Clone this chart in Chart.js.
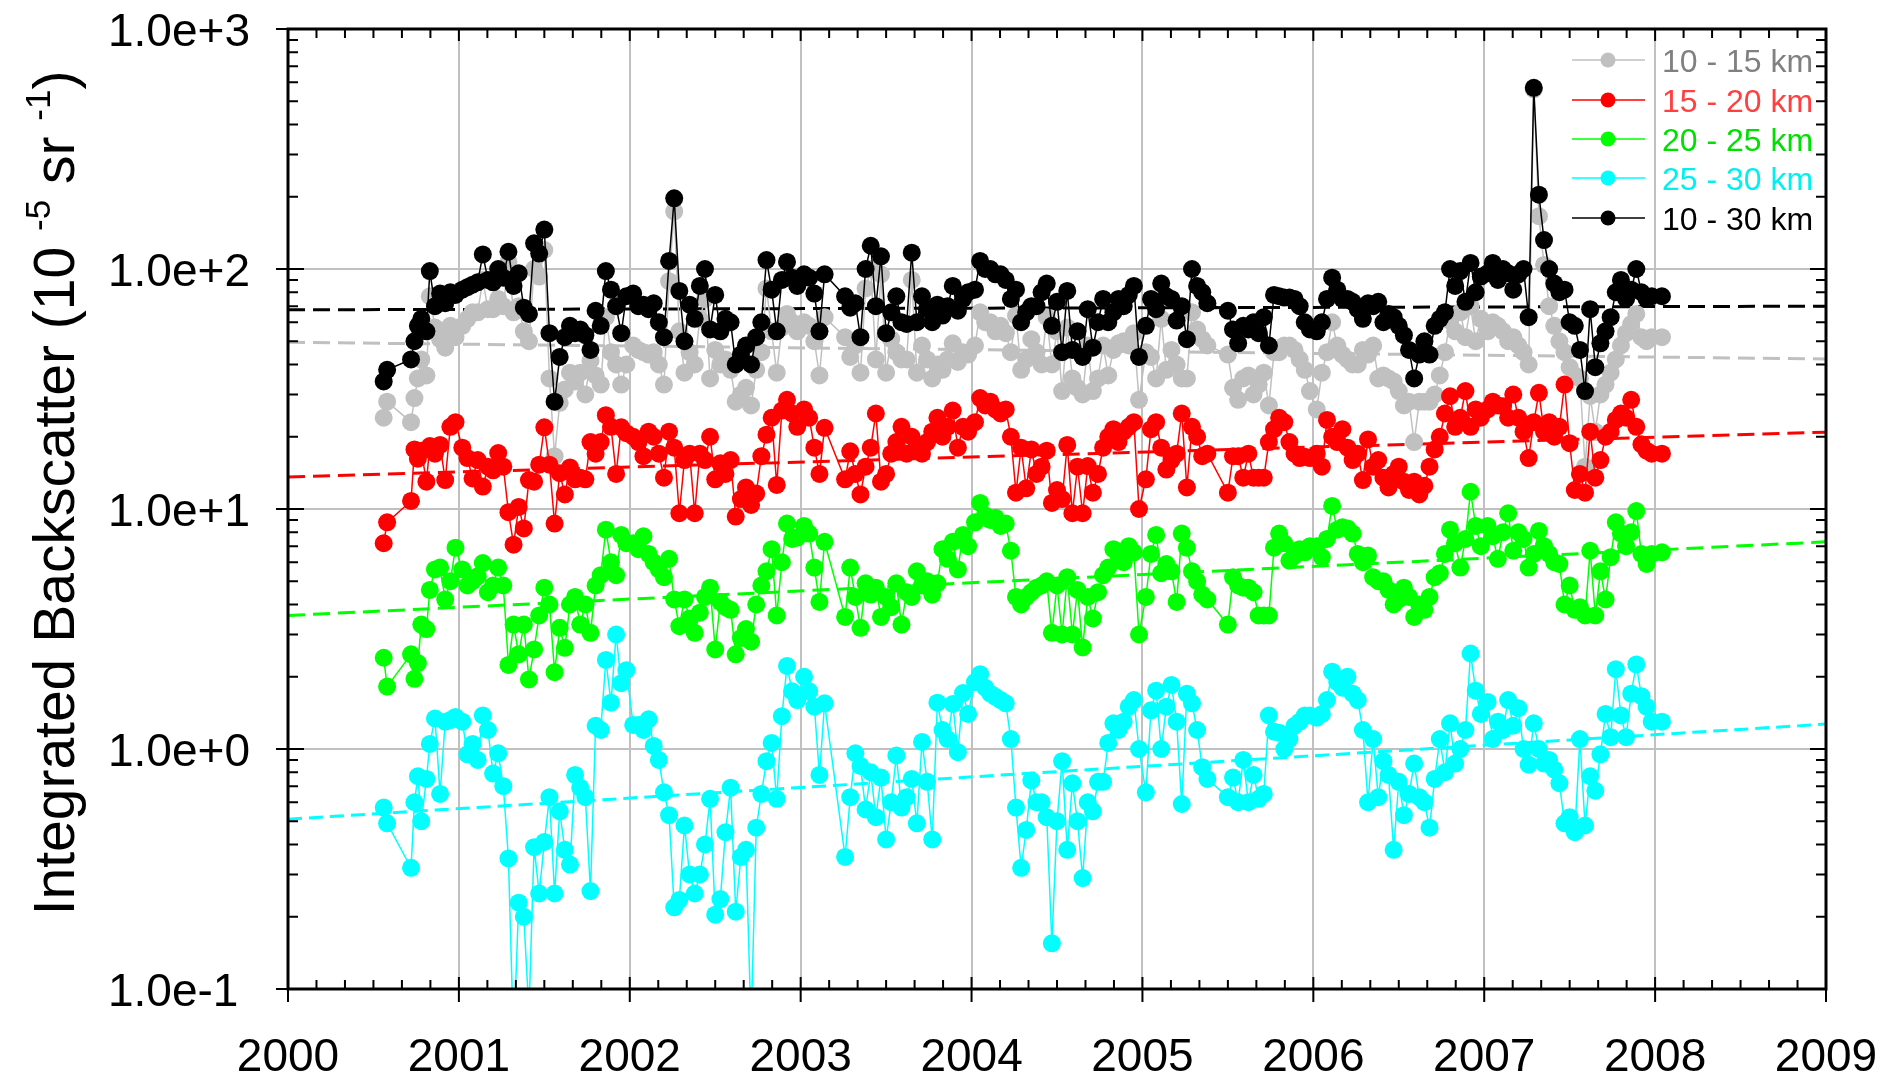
<!DOCTYPE html>
<html>
<head>
<meta charset="utf-8">
<style>
  html, body { margin: 0; padding: 0; background: #fff; }
  #wrap { width: 1882px; height: 1075px; }
</style>
<script src="https://cdn.jsdelivr.net/npm/chart.js@4/dist/chart.umd.min.js"></script>
</head>
<body>
<div id="wrap"><canvas id="chart" width="1882" height="1075"></canvas></div>
<script>
// decimal year of each lidar profile (shared by all altitude ranges)
const dates = [
  2000.56, 2000.58, 2000.72, 2000.74, 2000.76, 2000.78, 2000.81, 2000.83, 2000.86, 2000.89, 2000.92, 2000.95, 2000.98,
  2001.02, 2001.05, 2001.08, 2001.11, 2001.14, 2001.17, 2001.20, 2001.23, 2001.26, 2001.29, 2001.32, 2001.35, 2001.38, 2001.41, 2001.44, 2001.47, 2001.50, 2001.53, 2001.56, 2001.59, 2001.62, 2001.65, 2001.68, 2001.71, 2001.74, 2001.77, 2001.80, 2001.83, 2001.86, 2001.89, 2001.92, 2001.95, 2001.98,
  2002.02, 2002.05, 2002.08, 2002.11, 2002.14, 2002.17, 2002.20, 2002.23, 2002.26, 2002.29, 2002.32, 2002.35, 2002.38, 2002.41, 2002.44, 2002.47, 2002.50, 2002.53, 2002.56, 2002.59, 2002.62, 2002.65, 2002.68, 2002.71, 2002.74, 2002.77, 2002.80, 2002.83, 2002.86, 2002.89, 2002.92, 2002.95, 2002.98,
  2003.02, 2003.05, 2003.08, 2003.11, 2003.14, 2003.26, 2003.29, 2003.32, 2003.35, 2003.38, 2003.41, 2003.44, 2003.47, 2003.50, 2003.53, 2003.56, 2003.59, 2003.62, 2003.65, 2003.68, 2003.71, 2003.74, 2003.77, 2003.80, 2003.83, 2003.86, 2003.89, 2003.92, 2003.95, 2003.98,
  2004.02, 2004.05, 2004.08, 2004.11, 2004.14, 2004.17, 2004.20, 2004.23, 2004.26, 2004.29, 2004.32, 2004.35, 2004.38, 2004.41, 2004.44, 2004.47, 2004.50, 2004.53, 2004.56, 2004.59, 2004.62, 2004.65, 2004.68, 2004.71, 2004.74, 2004.77, 2004.80, 2004.83, 2004.86, 2004.89, 2004.92, 2004.95, 2004.98,
  2005.02, 2005.05, 2005.08, 2005.11, 2005.14, 2005.17, 2005.20, 2005.23, 2005.26, 2005.29, 2005.32, 2005.35, 2005.38, 2005.50, 2005.53, 2005.56, 2005.59, 2005.62, 2005.65, 2005.68, 2005.71, 2005.74, 2005.77, 2005.80, 2005.83, 2005.86, 2005.89, 2005.92, 2005.95, 2005.98,
  2006.02, 2006.05, 2006.08, 2006.11, 2006.14, 2006.17, 2006.20, 2006.23, 2006.26, 2006.29, 2006.32, 2006.35, 2006.38, 2006.41, 2006.44, 2006.47, 2006.50, 2006.53, 2006.56, 2006.59, 2006.62, 2006.65, 2006.68, 2006.71, 2006.74, 2006.77, 2006.80, 2006.83, 2006.86, 2006.89, 2006.92, 2006.95, 2006.98,
  2007.02, 2007.05, 2007.08, 2007.11, 2007.14, 2007.17, 2007.20, 2007.23, 2007.26, 2007.29, 2007.32, 2007.35, 2007.38, 2007.41, 2007.44, 2007.47, 2007.50, 2007.53, 2007.56, 2007.59, 2007.62, 2007.65, 2007.68, 2007.71, 2007.74, 2007.77, 2007.80, 2007.83, 2007.86, 2007.89, 2007.92, 2007.95, 2007.98,
  2008.04
];

const km10_15 = [
  24, 28, 23, 29, 35, 42, 36, 77, 57, 51, 47, 58, 52,
  58, 62, 66, 66, 90, 68, 68, 75, 70, 107, 66, 70, 55, 50, 100, 93, 120, 35, 16.6, 27.7, 31.5, 37, 34, 37, 30, 41.5, 36, 33, 63, 45, 40, 33, 40,
  48, 46, 45, 44, 45, 40, 33, 89, 174, 55, 37, 45, 40, 62, 75, 35, 46, 40, 42, 38, 28, 30, 32, 27, 38, 45, 83, 55, 37, 57, 65, 60, 55,
  60, 58, 50, 36, 63, 52, 43, 48, 37, 83, 100, 42, 95, 37, 51, 45, 42, 42, 90, 37, 48, 42, 35, 40, 38, 42, 49, 41, 45, 44,
  48, 66, 60, 60, 55, 58, 54, 45, 64, 38, 42, 51, 45, 40, 63, 40, 55, 31, 57, 35, 32, 30, 48, 31, 35, 48, 36, 46, 49, 50, 48, 54, 28.5,
  45, 43, 35, 62, 38, 46, 40, 35, 35, 66, 56, 51, 48, 44, 32, 28.5, 35, 36, 30, 33, 37, 27, 45, 45, 48, 48, 46, 42, 38, 31,
  26, 37, 45, 60, 48, 44, 42, 40, 40, 46, 44, 48, 35, 36, 35, 34, 31, 27, 28, 19, 28, 28, 28, 30, 36, 45, 61, 55, 66, 52, 70, 50, 62,
  55, 60, 58, 55, 50, 52, 48, 45, 40, 560, 166, 104, 70, 58, 50, 45, 39, 36, 35, 15, 29.6, 21, 30, 33, 37, 42, 48, 54, 59, 65, 52, 50, 52,
  52
];

const km15_20 = [
  7.2, 8.8, 10.8, 17.7, 16.2, 17.5, 13, 18.3, 17, 18.5, 13.2, 22, 23,
  18, 16.3, 13.4, 16, 12.4, 15, 14.5, 17.1, 15, 9.7, 7.1, 10.2, 8.3, 13.2, 13, 15.3, 21.9, 15.3, 8.7, 14.1, 11.5, 14.9, 13.3, 13.5, 13.3, 19, 17, 19, 24.6, 22, 14, 21.9, 20.7,
  20, 19, 16.6, 21, 20, 17, 13.5, 21, 18, 9.6, 16, 17, 9.6, 17, 16, 20, 13.3, 15.5, 14, 16, 9.3, 11, 12.3, 10.4, 11.6, 16.6, 20.4, 24, 12.6, 25.7, 28.5, 25, 22,
  26, 24, 18, 14, 21.8, 13.3, 17.4, 14, 11.5, 15, 18, 25, 13, 14, 17, 19, 22, 17, 20, 18, 17, 19, 21, 24, 20, 22, 25.7, 18, 22, 21,
  23, 29, 27, 28, 26, 25, 26, 20, 11.7, 18, 12.2, 17.7, 14, 15, 17.5, 10.6, 12, 11, 18.5, 9.6, 15, 9.6, 15.1, 11.7, 14, 18, 20, 21.5, 19, 21, 22, 23, 10,
  13.3, 21.5, 23, 18, 14.6, 16, 17, 25, 12.3, 22, 20, 16.6, 17, 11.7, 16.6, 16.6, 13.5, 17, 13.5, 13.5, 13.5, 19, 21.5, 24, 23, 19, 17, 16.3, 16.5, 16.3,
  17, 15, 23.5, 20, 19, 21.5, 18, 16, 17, 13.2, 19.5, 15, 16, 13.5, 12.3, 14, 15, 13, 12, 13, 11.5, 12.5, 15, 17.7, 20, 25, 29.5, 22, 24, 31, 22, 26, 24,
  26, 28, 27, 26.8, 24, 30, 24, 21, 16.3, 23, 30.5, 21, 23, 20, 22, 33, 18.8, 12, 14, 11.7, 21, 13.5, 16, 20, 21, 23.5, 25, 24, 28.5, 22, 18.6, 17.5, 17,
  17
];

const km20_25 = [
  2.4, 1.82, 2.48, 1.96, 2.28, 3.3, 3.16, 4.6, 5.6, 5.7, 4.2, 5.0, 6.9,
  5.6, 4.8, 5.0, 5.25, 5.95, 4.5, 4.8, 5.7, 4.8, 2.24, 3.3, 2.48, 3.3, 1.95, 2.6, 3.6, 4.7, 4.0, 2.09, 3.2, 2.64, 4.0, 4.3, 3.3, 4.0, 3.05, 4.8, 5.3, 8.2, 6.0, 5.3, 7.8, 7.2,
  7.2, 6.8, 7.7, 6.5, 6.0, 5.6, 5.2, 6.2, 4.2, 3.25, 4.2, 3.5, 3.05, 3.7, 4.3, 4.7, 2.6, 4.1, 3.9, 3.8, 2.48, 2.9, 3.16, 2.8, 4.0, 4.8, 5.5, 6.8, 3.6, 6.0, 8.7, 7.5, 7.6,
  8.5, 7.9, 5.7, 4.1, 7.3, 3.55, 5.7, 4.3, 3.2, 4.9, 4.4, 4.7, 3.55, 4.3, 3.9, 4.9, 3.3, 4.5, 4.3, 5.5, 4.8, 5.0, 4.4, 4.9, 6.8, 6.2, 7.3, 5.6, 7.8, 7.0,
  8.8, 10.6, 9.4, 9.0, 9.2, 8.5, 8.7, 6.7, 4.3, 4.0, 4.3, 4.5, 4.7, 4.8, 5.0, 3.05, 4.8, 3.0, 5.2, 3.0, 4.6, 2.65, 4.3, 3.5, 4.5, 5.3, 5.7, 6.8, 6.5, 6.0, 7.0, 6.6, 3.0,
  4.3, 6.5, 7.8, 5.4, 5.9, 5.5, 4.1, 7.9, 6.9, 5.5, 5.0, 4.4, 4.2, 3.3, 5.2, 4.8, 4.7, 4.7, 4.5, 3.6, 3.6, 3.6, 6.9, 7.9, 7.2, 6.1, 6.4, 6.8, 6.6, 7.0,
  7.0, 6.3, 7.5, 10.3, 8.2, 8.4, 8.3, 7.9, 6.5, 6.0, 6.4, 5.2, 5.0, 5.0, 4.6, 4.0, 4.2, 4.7, 4.3, 3.55, 4.0, 3.8, 4.3, 5.2, 5.4, 6.5, 8.2, 7.2, 5.7, 7.5, 11.8, 8.5, 7.0,
  8.5, 7.7, 6.2, 8.0, 9.6, 6.7, 8.0, 7.5, 5.7, 6.5, 8.1, 7.0, 6.5, 6.0, 5.9, 4.0, 4.8, 3.8, 3.9, 3.6, 6.7, 3.6, 5.5, 4.2, 6.3, 8.8, 7.9, 7.0, 8.0, 9.8, 6.5, 5.9, 6.5,
  6.6
];

const km25_30 = [
  0.57, 0.49, 0.32, 0.60, 0.77, 0.50, 0.75, 1.05, 1.34, 0.65, 1.3, 1.32, 1.36,
  1.3, 0.95, 1.05, 0.90, 1.38, 1.2, 0.79, 0.96, 0.70, 0.35, 0.06, 0.229, 0.2, 0.08, 0.39, 0.25, 0.41, 0.63, 0.25, 0.55, 0.38, 0.33, 0.78, 0.69, 0.63, 0.256, 1.25, 1.2, 2.35, 1.56, 3.0, 1.88, 2.13,
  1.26, 1.26, 1.2, 1.33, 1.03, 0.9, 0.66, 0.53, 0.219, 0.235, 0.48, 0.30, 0.25, 0.30, 0.40, 0.62, 0.204, 0.237, 0.45, 0.69, 0.21, 0.355, 0.38, 0.07, 0.47, 0.65, 0.89, 1.06, 0.62, 1.37, 2.22, 1.74, 1.6,
  2.0, 1.74, 1.5, 0.78, 1.55, 0.355, 0.63, 0.96, 0.85, 0.56, 0.8, 0.52, 0.76, 0.42, 0.6, 0.94, 0.57, 0.63, 0.75, 0.49, 1.07, 0.73, 0.42, 1.56, 1.2, 1.1, 1.54, 0.97, 1.71, 1.4,
  1.9, 2.05, 1.8, 1.7, 1.65, 1.6, 1.55, 1.1, 0.57, 0.32, 0.46, 0.74, 0.6, 0.6, 0.52, 0.155, 0.5, 0.89, 0.38, 0.72, 0.5, 0.29, 0.6, 0.55, 0.73, 0.73, 1.06, 1.28, 1.2, 1.3, 1.5, 1.6, 1.0,
  0.66, 1.45, 1.75, 1.0, 1.5, 1.85, 1.3, 0.59, 1.7, 1.55, 1.2, 0.84, 0.75, 0.63, 0.76, 0.6, 0.9, 0.6, 0.78, 0.62, 0.65, 1.38, 1.18, 1.17, 1.0, 1.1, 1.25, 1.3, 1.38, 1.38,
  1.35, 1.4, 1.6, 2.1, 1.9, 1.8, 2.0, 1.7, 1.6, 1.2, 0.6, 1.1, 0.63, 0.89, 0.78, 0.38, 0.73, 0.53, 0.65, 0.87, 0.63, 0.6, 0.47, 0.75, 1.1, 0.8, 1.28, 0.87, 1.0, 1.2, 2.5, 1.75, 1.4,
  1.57, 1.1, 1.3, 1.2, 1.6, 1.25, 1.48, 1.0, 0.86, 1.28, 1.0, 0.87, 0.9, 0.82, 0.72, 0.49, 0.52, 0.45, 1.1, 0.48, 0.77, 0.67, 0.95, 1.4, 1.12, 2.15, 1.38, 1.12, 1.7, 2.25, 1.66, 1.5, 1.3,
  1.3
];

const km10_30 = [
  34, 38, 42, 50, 58, 62, 55, 98, 70, 79, 72, 80, 78,
  82, 84, 86, 88, 115, 90, 88, 100, 92, 118, 85, 96, 69, 65, 128, 116, 146, 54, 28, 43, 52, 58, 54, 56, 53, 46, 67, 58, 98, 82, 70, 54, 77,
  79, 70, 71, 68, 72, 60, 52, 108, 197, 81, 50, 71, 62, 85, 100, 56, 78, 55, 62, 60, 40, 44, 48, 40, 52, 60, 109, 82, 55, 90, 107, 92, 85,
  95, 92, 79, 55, 95, 77, 69, 72, 52, 100, 125, 70, 113, 54, 66, 77, 60, 59, 117, 60, 77, 68, 60, 71, 64, 70, 85, 67, 75, 80,
  82, 108, 100, 100, 95, 95, 90, 75, 82, 60, 66, 70, 70, 80, 87, 58, 73, 45, 81, 46, 55, 43, 68, 47, 60, 75, 60, 66, 75, 70, 78, 85, 43,
  58, 75, 68, 87, 77, 75, 61, 70, 51, 100, 85, 80, 72, 67, 56, 49, 58, 56, 60, 54, 63, 48, 78, 77, 76, 76, 75, 70, 60, 56,
  55, 60, 75, 92, 82, 75, 75, 73, 68, 62, 72, 70, 73, 60, 65, 63, 58, 53, 46, 35, 44, 50, 44, 58, 62, 66, 100, 85, 98, 73, 106, 80, 93,
  96, 106, 90, 100, 96, 82, 95, 100, 63, 569, 204, 132, 100, 87, 80, 82, 60, 58, 46, 31, 68, 39, 49, 55, 63, 80, 90, 75, 82, 100, 80, 75, 77,
  77
];

// fitted trend lines, value at 2000 and at 2009
const trendYears = [2000, 2009];
const trend10_15 = [49.5, 42.2];
const trend15_20 = [13.6, 20.9];
const trend20_25 = [3.6, 7.3];
const trend25_30 = [0.51, 1.27];
const trend10_30 = [67.6, 70];

const seriesLabels = ['10 - 15 km', '15 - 20 km', '20 - 25 km', '25 - 30 km', '10 - 30 km'];
const seriesColors = ['#c0c0c0', '#ff0000', '#00ff00', '#00ffff', '#000000'];
const labelColors = ['#808080', '#ff4040', '#00e000', '#00f0f0', '#000000'];
const yTicks = [0.1, 1, 10, 100, 1000];
const xTicks = [2000, 2001, 2002, 2003, 2004, 2005, 2006, 2007, 2008, 2009];

const FONT = "'Liberation Sans', Arial, sans-serif";
const seriesValues = [km10_15, km15_20, km20_25, km25_30, km10_30];
const trendValues = [trend10_15, trend15_20, trend20_25, trend25_30, trend10_30];

const seriesDatasets = seriesValues.map((vals, i) => ({
  label: seriesLabels[i],
  data: dates.map((d, k) => ({ x: d, y: vals[k] })),
  borderColor: seriesColors[i],
  backgroundColor: seriesColors[i],
  borderWidth: 1.5,
  pointRadius: 9,
  pointBorderWidth: 0,
  pointBackgroundColor: seriesColors[i],
  order: 5 - i,
}));
// black (10-30 km) on top, grey at the bottom
seriesDatasets[4].order = 0;

const trendDatasets = trendValues.map((vals, i) => ({
  label: seriesLabels[i] + ' trend',
  data: trendYears.map((yr, k) => ({ x: yr, y: vals[k] })),
  borderColor: seriesColors[i],
  borderWidth: 3,
  borderDash: i === 3 ? [14, 7] : [17, 8],
  pointRadius: 0,
  order: 10,
}));

// box, tick marks and tick labels
const frame = {
  id: 'frame',
  afterDatasetsDraw(chart) {
    const { ctx, chartArea: a, scales: { x, y } } = chart;
    ctx.save();
    ctx.strokeStyle = '#000';
    ctx.lineWidth = 2;
    ctx.beginPath();
    for (let e = -1; e <= 3; e++) {
      for (let m = 1; m <= 9; m++) {
        if (e === 3 && m > 1) break;
        const py = y.getPixelForValue(m * Math.pow(10, e));
        const len = m === 1 ? 16 : 10;
        ctx.moveTo(a.left - (m === 1 ? 12 : 0), py);
        ctx.lineTo(a.left + len, py);
        ctx.moveTo(a.right, py);
        ctx.lineTo(a.right - len, py);
      }
    }
    for (let yr = 2000; yr <= 2009; yr++) {
      for (let k = 0; k < 6; k++) {
        if (yr === 2009 && k > 0) break;
        const px = x.getPixelForValue(yr + k / 6);
        const len = k === 0 ? 12 : 9;
        ctx.moveTo(px, a.bottom + (k === 0 ? 13 : 0));
        ctx.lineTo(px, a.bottom - len);
        ctx.moveTo(px, a.top);
        ctx.lineTo(px, a.top + len);
      }
    }
    ctx.stroke();
    ctx.lineWidth = 3;
    ctx.strokeRect(a.left, a.top, a.right - a.left, a.bottom - a.top);

    ctx.fillStyle = '#000';
    ctx.font = '46px ' + FONT;
    ctx.textBaseline = 'alphabetic';
    ctx.textAlign = 'left';
    yTicks.forEach((v) => {
      ctx.fillText(v.toExponential(1), 108, y.getPixelForValue(v) + 17);
    });
    ctx.textAlign = 'center';
    xTicks.forEach((v) => {
      ctx.fillText(String(v), x.getPixelForValue(v), 1071);
    });
    ctx.restore();
  },
};

const yTitle = {
  id: 'yTitle',
  afterDraw(chart) {
    const ctx = chart.ctx;
    const size = 57;
    const parts = [
      { t: 'Integrated Backscatter (10 ', sup: false },
      { t: '-5', sup: true },
      { t: ' sr ', sup: false },
      { t: '-1', sup: true },
      { t: ')', sup: false },
    ];
    ctx.save();
    ctx.fillStyle = '#000';
    ctx.textBaseline = 'alphabetic';
    ctx.textAlign = 'left';
    let total = 0;
    parts.forEach((p) => {
      ctx.font = (p.sup ? Math.round(size * 0.62) : size) + 'px ' + FONT;
      p.w = ctx.measureText(p.t).width;
      total += p.w;
    });
    ctx.translate(49, 493);
    ctx.rotate(-Math.PI / 2);
    let cx = -total / 2;
    parts.forEach((p) => {
      ctx.font = (p.sup ? Math.round(size * 0.62) : size) + 'px ' + FONT;
      ctx.fillText(p.t, cx, p.sup ? 1 : 25);
      cx += p.w;
    });
    ctx.restore();
  },
};

const legendBox = {
  id: 'legendBox',
  afterDraw(chart) {
    const ctx = chart.ctx;
    const rows = [60, 100, 139, 178, 218];
    ctx.save();
    ctx.font = '32px ' + FONT;
    ctx.textBaseline = 'alphabetic';
    ctx.textAlign = 'left';
    rows.forEach((ry, i) => {
      ctx.strokeStyle = seriesColors[i];
      ctx.lineWidth = 1.5;
      ctx.beginPath();
      ctx.moveTo(1572, ry);
      ctx.lineTo(1645, ry);
      ctx.stroke();
      ctx.fillStyle = seriesColors[i];
      ctx.beginPath();
      ctx.arc(1608, ry, 7.5, 0, Math.PI * 2);
      ctx.fill();
      ctx.fillStyle = labelColors[i];
      ctx.fillText(seriesLabels[i], 1662, ry + 12);
    });
    ctx.restore();
  },
};

new Chart(document.getElementById('chart'), {
  type: 'line',
  data: { datasets: [...trendDatasets, ...seriesDatasets] },
  options: {
    responsive: false,
    animation: false,
    devicePixelRatio: 1,
    layout: { padding: { top: 29, right: 56, bottom: 0, left: 0 } },
    elements: { line: { tension: 0 } },
    plugins: { legend: { display: false }, tooltip: { enabled: false } },
    scales: {
      x: {
        type: 'linear',
        min: 2000,
        max: 2009,
        afterFit: (s) => { s.height = 86; s.paddingLeft = 0; s.paddingRight = 0; },
        afterBuildTicks: (s) => { s.ticks = xTicks.map((v) => ({ value: v })); },
        ticks: { display: false },
        grid: { color: '#c0c0c0', lineWidth: 2, drawTicks: false },
        border: { display: false },
      },
      y: {
        type: 'logarithmic',
        min: 0.1,
        max: 1000,
        afterFit: (s) => { s.width = 288; s.paddingTop = 0; s.paddingBottom = 0; },
        afterBuildTicks: (s) => { s.ticks = yTicks.map((v) => ({ value: v })); },
        ticks: { display: false },
        grid: { color: '#c0c0c0', lineWidth: 2, drawTicks: false },
        border: { display: false },
      },
    },
  },
  plugins: [frame, yTitle, legendBox],
});
</script>
</body>
</html>
